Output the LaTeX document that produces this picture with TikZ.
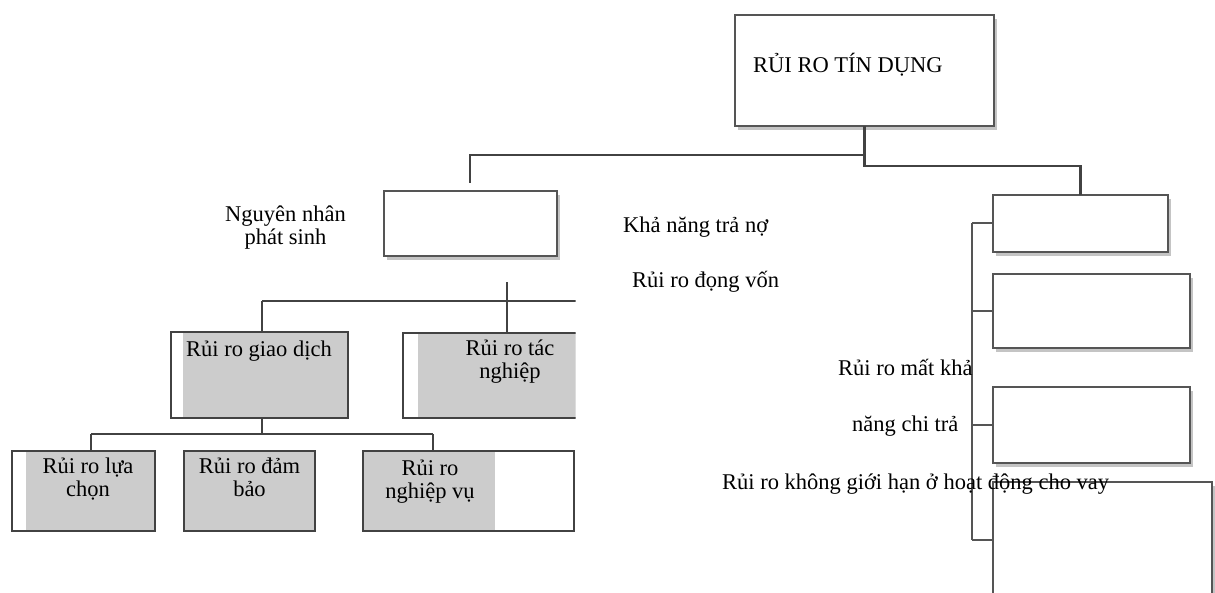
\documentclass[tikz,border=0pt]{standalone}
\usepackage{fontspec}
\setmainfont{Liberation Serif}
\usetikzlibrary{shadows,calc}
\definecolor{thinline}{HTML}{555555}
\definecolor{darkline}{HTML}{424242}
\definecolor{boxfill}{HTML}{CCCCCC}
\definecolor{shadowgrey}{HTML}{C4C4C4}
\newcommand\twoline[2]{\begin{tabular}[t]{@{}c@{}}#1\\#2\end{tabular}}
\begin{document}
\begin{tikzpicture}[x=1pt,y=-1pt,
  every node/.style={font=\fontsize{22.5}{23}\selectfont},
  thinbox/.style={draw=thinline, line width=1.2pt, fill=white, inner sep=0pt, outer sep=0pt,
    anchor=north west,
    drop shadow={shadow xshift=3pt, shadow yshift=-4pt, fill=shadowgrey, opacity=1}},
  thickbox/.style={draw=darkline, line width=2.5pt, fill=boxfill, inner sep=0pt, outer sep=0pt,
    anchor=north west},
  leftstrip/.style={path picture={\fill[white] (path picture bounding box.north west)
    rectangle ([xshift=#1]path picture bounding box.south west);}},
  rightstrip/.style={path picture={\fill[white] (path picture bounding box.north east)
    rectangle ([xshift=-#1]path picture bounding box.south east);}},
  conn/.style={draw=darkline, line width=2.2pt},
  txt/.style={inner sep=0pt, anchor=base west},
  ctxt/.style={inner sep=0pt, anchor=base}]
\useasboundingbox (0,0) rectangle (1215,592);
\clip (0,0) rectangle (1215,592);
\fill[white] (0,0) rectangle (1215,592);

% top and right boxes
\node[thinbox, minimum width=259pt, minimum height=111pt] (T) at (735,15) {};
\node[thinbox, minimum width=173pt, minimum height=65pt] (N) at (384,191) {};
\node[thinbox, minimum width=175pt, minimum height=57pt] (R1) at (993,195) {};
\node[thinbox, minimum width=197pt, minimum height=74pt] (R2) at (993,274) {};
\node[thinbox, minimum width=197pt, minimum height=76pt] (R3) at (993,387) {};
\node[thinbox, minimum width=219pt, minimum height=130pt] (R4) at (993,482) {};

% connectors from the top box
\coordinate (tl) at (470,183);
\draw[conn] (T.south) -- (T.south |- 0,166) -| (R1.north);
\draw[conn] (T.south |- 0,155) -| (tl);

% right spine
\coordinate (sp1) at (972,223);
\coordinate (sp4) at (972,540);
\draw[conn, draw=thinline] (sp1) -- (sp4);
\draw[conn, draw=thinline] (sp1) -- (R1.west |- sp1);
\draw[conn, draw=thinline] (972,311) -- (R2.west |- 0,311);
\draw[conn, draw=thinline] (972,425) -- (R3.west |- 0,425);
\draw[conn, draw=thinline] (sp4) -- (R4.west |- sp4);

% left part (cut at the right)
\begin{scope}
\clip (0,0) rectangle (575.5,592);
\node[thickbox, leftstrip=12pt, minimum width=177pt, minimum height=86pt] (GD) at (171,332) {};
\node[thickbox, leftstrip=15pt, minimum width=230pt, minimum height=85pt] (TN) at (403,333) {};
\node[thickbox, leftstrip=14pt, minimum width=143pt, minimum height=80pt] (L1) at (12,451) {};
\node[thickbox, minimum width=131pt, minimum height=80pt] (L2) at (184,451) {};
\node[thickbox, rightstrip=79pt, minimum width=211pt, minimum height=80pt] (L3) at (363,451) {};
\coordinate (nb) at (507,282);
\coordinate (hr) at (600,301);
\draw[conn] (nb) -- (nb |- TN.north);
\draw[conn] (262,301) -- (hr);
\draw[conn] (262,301) -- (262,0 |- GD.north);
\draw[conn] (262,0 |- GD.south) -- (262,434);
\draw[conn] (91,434) -- (433,434);
\draw[conn] (91,434) -- (91,0 |- L1.north);
\draw[conn] (433,434) -- (433,0 |- L3.north);
% texts of the left part
\node[txt] (tGD) at (186,356) {Rủi ro giao dịch};
\node[ctxt] (tTN) at (510,355) {\twoline{Rủi ro tác}{nghiệp}};
\node[ctxt] (tL1) at (88,473) {\twoline{Rủi ro lựa}{chọn}};
\node[ctxt] (tL2) at (249.5,473) {\twoline{Rủi ro đảm}{bảo}};
\node[ctxt] (tL3) at (430,475) {\twoline{Rủi ro}{nghiệp vụ}};
\end{scope}

% texts
\node[txt] (tT) at (753,72) {RỦI RO TÍN DỤNG};
\node[ctxt] (tN) at (285.5,221) {\twoline{Nguyên nhân}{phát sinh}};
\node[txt] (k1) at (623,232) {Khả năng trả nợ};
\node[txt] (k2) at (632,287) {Rủi ro đọng vốn};
\node[txt] (k3) at (838,375) {Rủi ro mất khả};
\node[txt] (k4) at (852,431) {năng chi trả};
\node[txt] (k5) at (722,489) {Rủi ro không giới hạn ở hoạt động cho vay};
\end{tikzpicture}
\end{document}
